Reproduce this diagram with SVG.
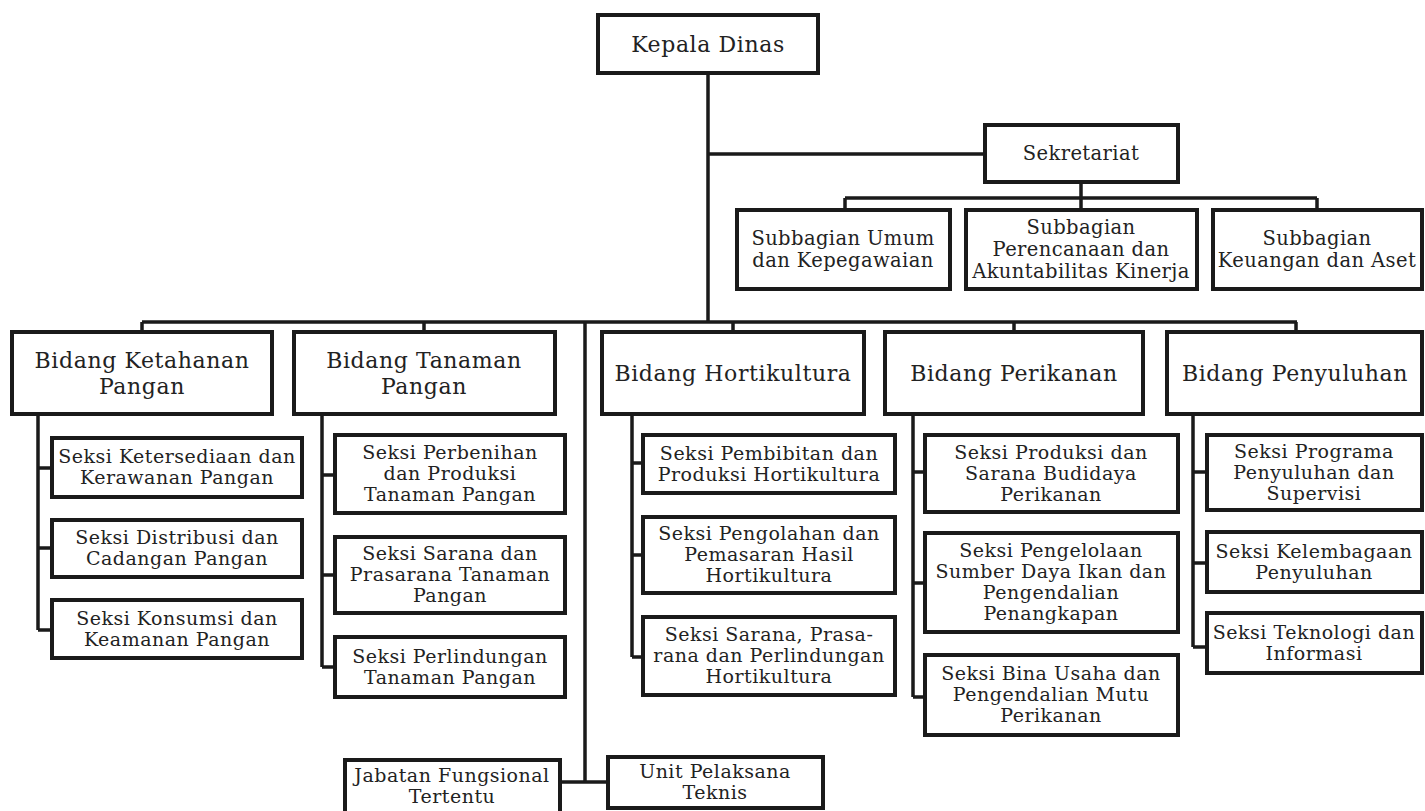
<svg xmlns="http://www.w3.org/2000/svg" width="1425" height="811" viewBox="0 0 1425 811">
<style>
.box{fill:#fff;stroke:#1a1a1a;stroke-width:4}
.ln{fill:none;stroke:#1a1a1a;stroke-width:3.5}
text{font-family:"DejaVu Serif","Liberation Serif",serif;fill:#222;text-anchor:middle}
.t1{font-size:22px;letter-spacing:0.6px}
.t2{font-size:19.5px;letter-spacing:0.4px}
.t3{font-size:19px;letter-spacing:0.5px}
</style>
<rect width="1425" height="811" fill="#fff"/>
<g id="connectors">
<path class="ln" d="M708 73V322M708 154H985M1081 182V198M845 198H1317M845 198V210M1081 198V210M1317 198V210"/>
<path class="ln" d="M142 322H1297M142 322V332M424 322V332M733 322V332M1014 322V332M1296 322V332M585 322V782M560 782H608"/>
<path class="ln" d="M38 414V630M38 468H52M38 548H52M38 630H52"/>
<path class="ln" d="M322 414V667M322 475H335M322 575H335M322 667H335"/>
<path class="ln" d="M632 414V657M632 463H643M632 555H643M632 657H643"/>
<path class="ln" d="M913 414V697M913 472H925M913 583H925M913 697H925"/>
<path class="ln" d="M1193 414V647M1193 472H1207M1193 563H1207M1193 647H1207"/>
</g>
<g id="kepala"><rect class="box" x="598" y="15" width="220" height="58"/><text class="t1" x="708" y="52">Kepala Dinas</text></g>
<g id="sekretariat"><rect class="box" x="985" y="125" width="193" height="57"/><text class="t2" x="1081" y="160">Sekretariat</text></g>
<g id="sub-umum"><rect class="box" x="737" y="210" width="213" height="79"/><text class="t2" x="843" y="245">Subbagian Umum<tspan x="843" dy="22">dan Kepegawaian</tspan></text></g>
<g id="sub-perencanaan"><rect class="box" x="966" y="210" width="231" height="79"/><text class="t2" x="1081" y="234">Subbagian<tspan x="1081" dy="22">Perencanaan dan</tspan><tspan x="1081" dy="22">Akuntabilitas Kinerja</tspan></text></g>
<g id="sub-keuangan"><rect class="box" x="1213" y="210" width="209" height="79"/><text class="t2" x="1317" y="245">Subbagian<tspan x="1317" dy="22">Keuangan dan Aset</tspan></text></g>
<g id="bidang-ketahanan"><rect class="box" x="12" y="332" width="260" height="82"/><text class="t1" x="142" y="368">Bidang Ketahanan<tspan x="142" dy="26">Pangan</tspan></text></g>
<g id="bidang-tanaman"><rect class="box" x="294" y="332" width="261" height="82"/><text class="t1" x="424" y="368">Bidang Tanaman<tspan x="424" dy="26">Pangan</tspan></text></g>
<g id="bidang-hortikultura"><rect class="box" x="602" y="332" width="262" height="82"/><text class="t1" x="733" y="381">Bidang Hortikultura</text></g>
<g id="bidang-perikanan"><rect class="box" x="885" y="332" width="258" height="82"/><text class="t1" x="1014" y="381">Bidang Perikanan</text></g>
<g id="bidang-penyuluhan"><rect class="box" x="1167" y="332" width="255" height="82"/><text class="t1" x="1295" y="381">Bidang Penyuluhan</text></g>
<g id="seksi-ketersediaan"><rect class="box" x="52" y="438" width="250" height="59"/><text class="t3" x="177" y="463">Seksi Ketersediaan dan<tspan x="177" dy="21">Kerawanan Pangan</tspan></text></g>
<g id="seksi-distribusi"><rect class="box" x="52" y="520" width="250" height="57"/><text class="t3" x="177" y="544">Seksi Distribusi dan<tspan x="177" dy="21">Cadangan Pangan</tspan></text></g>
<g id="seksi-konsumsi"><rect class="box" x="52" y="600" width="250" height="58"/><text class="t3" x="177" y="625">Seksi Konsumsi dan<tspan x="177" dy="21">Keamanan Pangan</tspan></text></g>
<g id="seksi-perbenihan"><rect class="box" x="335" y="435" width="230" height="78"/><text class="t3" x="450" y="459">Seksi Perbenihan<tspan x="450" dy="21">dan Produksi</tspan><tspan x="450" dy="21">Tanaman Pangan</tspan></text></g>
<g id="seksi-sarana-tp"><rect class="box" x="335" y="537" width="230" height="76"/><text class="t3" x="450" y="560">Seksi Sarana dan<tspan x="450" dy="21">Prasarana Tanaman</tspan><tspan x="450" dy="21">Pangan</tspan></text></g>
<g id="seksi-perlindungan-tp"><rect class="box" x="335" y="637" width="230" height="60"/><text class="t3" x="450" y="663">Seksi Perlindungan<tspan x="450" dy="21">Tanaman Pangan</tspan></text></g>
<g id="seksi-pembibitan"><rect class="box" x="643" y="435" width="252" height="58"/><text class="t3" x="769" y="460">Seksi Pembibitan dan<tspan x="769" dy="21">Produksi Hortikultura</tspan></text></g>
<g id="seksi-pengolahan"><rect class="box" x="643" y="517" width="252" height="76"/><text class="t3" x="769" y="540">Seksi Pengolahan dan<tspan x="769" dy="21">Pemasaran Hasil</tspan><tspan x="769" dy="21">Hortikultura</tspan></text></g>
<g id="seksi-sarana-h"><rect class="box" x="643" y="617" width="252" height="78"/><text class="t3" x="769" y="641">Seksi Sarana, Prasa-<tspan x="769" dy="21">rana dan Perlindungan</tspan><tspan x="769" dy="21">Hortikultura</tspan></text></g>
<g id="seksi-produksi-ikan"><rect class="box" x="925" y="435" width="253" height="77"/><text class="t3" x="1051" y="459">Seksi Produksi dan<tspan x="1051" dy="21">Sarana Budidaya</tspan><tspan x="1051" dy="21">Perikanan</tspan></text></g>
<g id="seksi-pengelolaan"><rect class="box" x="925" y="533" width="253" height="99"/><text class="t3" x="1051" y="557">Seksi Pengelolaan<tspan x="1051" dy="21">Sumber Daya Ikan dan</tspan><tspan x="1051" dy="21">Pengendalian</tspan><tspan x="1051" dy="21">Penangkapan</tspan></text></g>
<g id="seksi-bina-usaha"><rect class="box" x="925" y="655" width="253" height="80"/><text class="t3" x="1051" y="680">Seksi Bina Usaha dan<tspan x="1051" dy="21">Pengendalian Mutu</tspan><tspan x="1051" dy="21">Perikanan</tspan></text></g>
<g id="seksi-programa"><rect class="box" x="1207" y="435" width="215" height="75"/><text class="t3" x="1314" y="458">Seksi Programa<tspan x="1314" dy="21">Penyuluhan dan</tspan><tspan x="1314" dy="21">Supervisi</tspan></text></g>
<g id="seksi-kelembagaan"><rect class="box" x="1207" y="532" width="215" height="60"/><text class="t3" x="1314" y="558">Seksi Kelembagaan<tspan x="1314" dy="21">Penyuluhan</tspan></text></g>
<g id="seksi-teknologi"><rect class="box" x="1207" y="613" width="215" height="60"/><text class="t3" x="1314" y="639">Seksi Teknologi dan<tspan x="1314" dy="21">Informasi</tspan></text></g>
<g id="jabatan"><rect class="box" x="345" y="760" width="215" height="60"/><text class="t3" x="452" y="782">Jabatan Fungsional<tspan x="452" dy="21">Tertentu</tspan></text></g>
<g id="upt"><rect class="box" x="608" y="757" width="215" height="51"/><text class="t3" x="715" y="778">Unit Pelaksana<tspan x="715" dy="21">Teknis</tspan></text></g>
</svg>
